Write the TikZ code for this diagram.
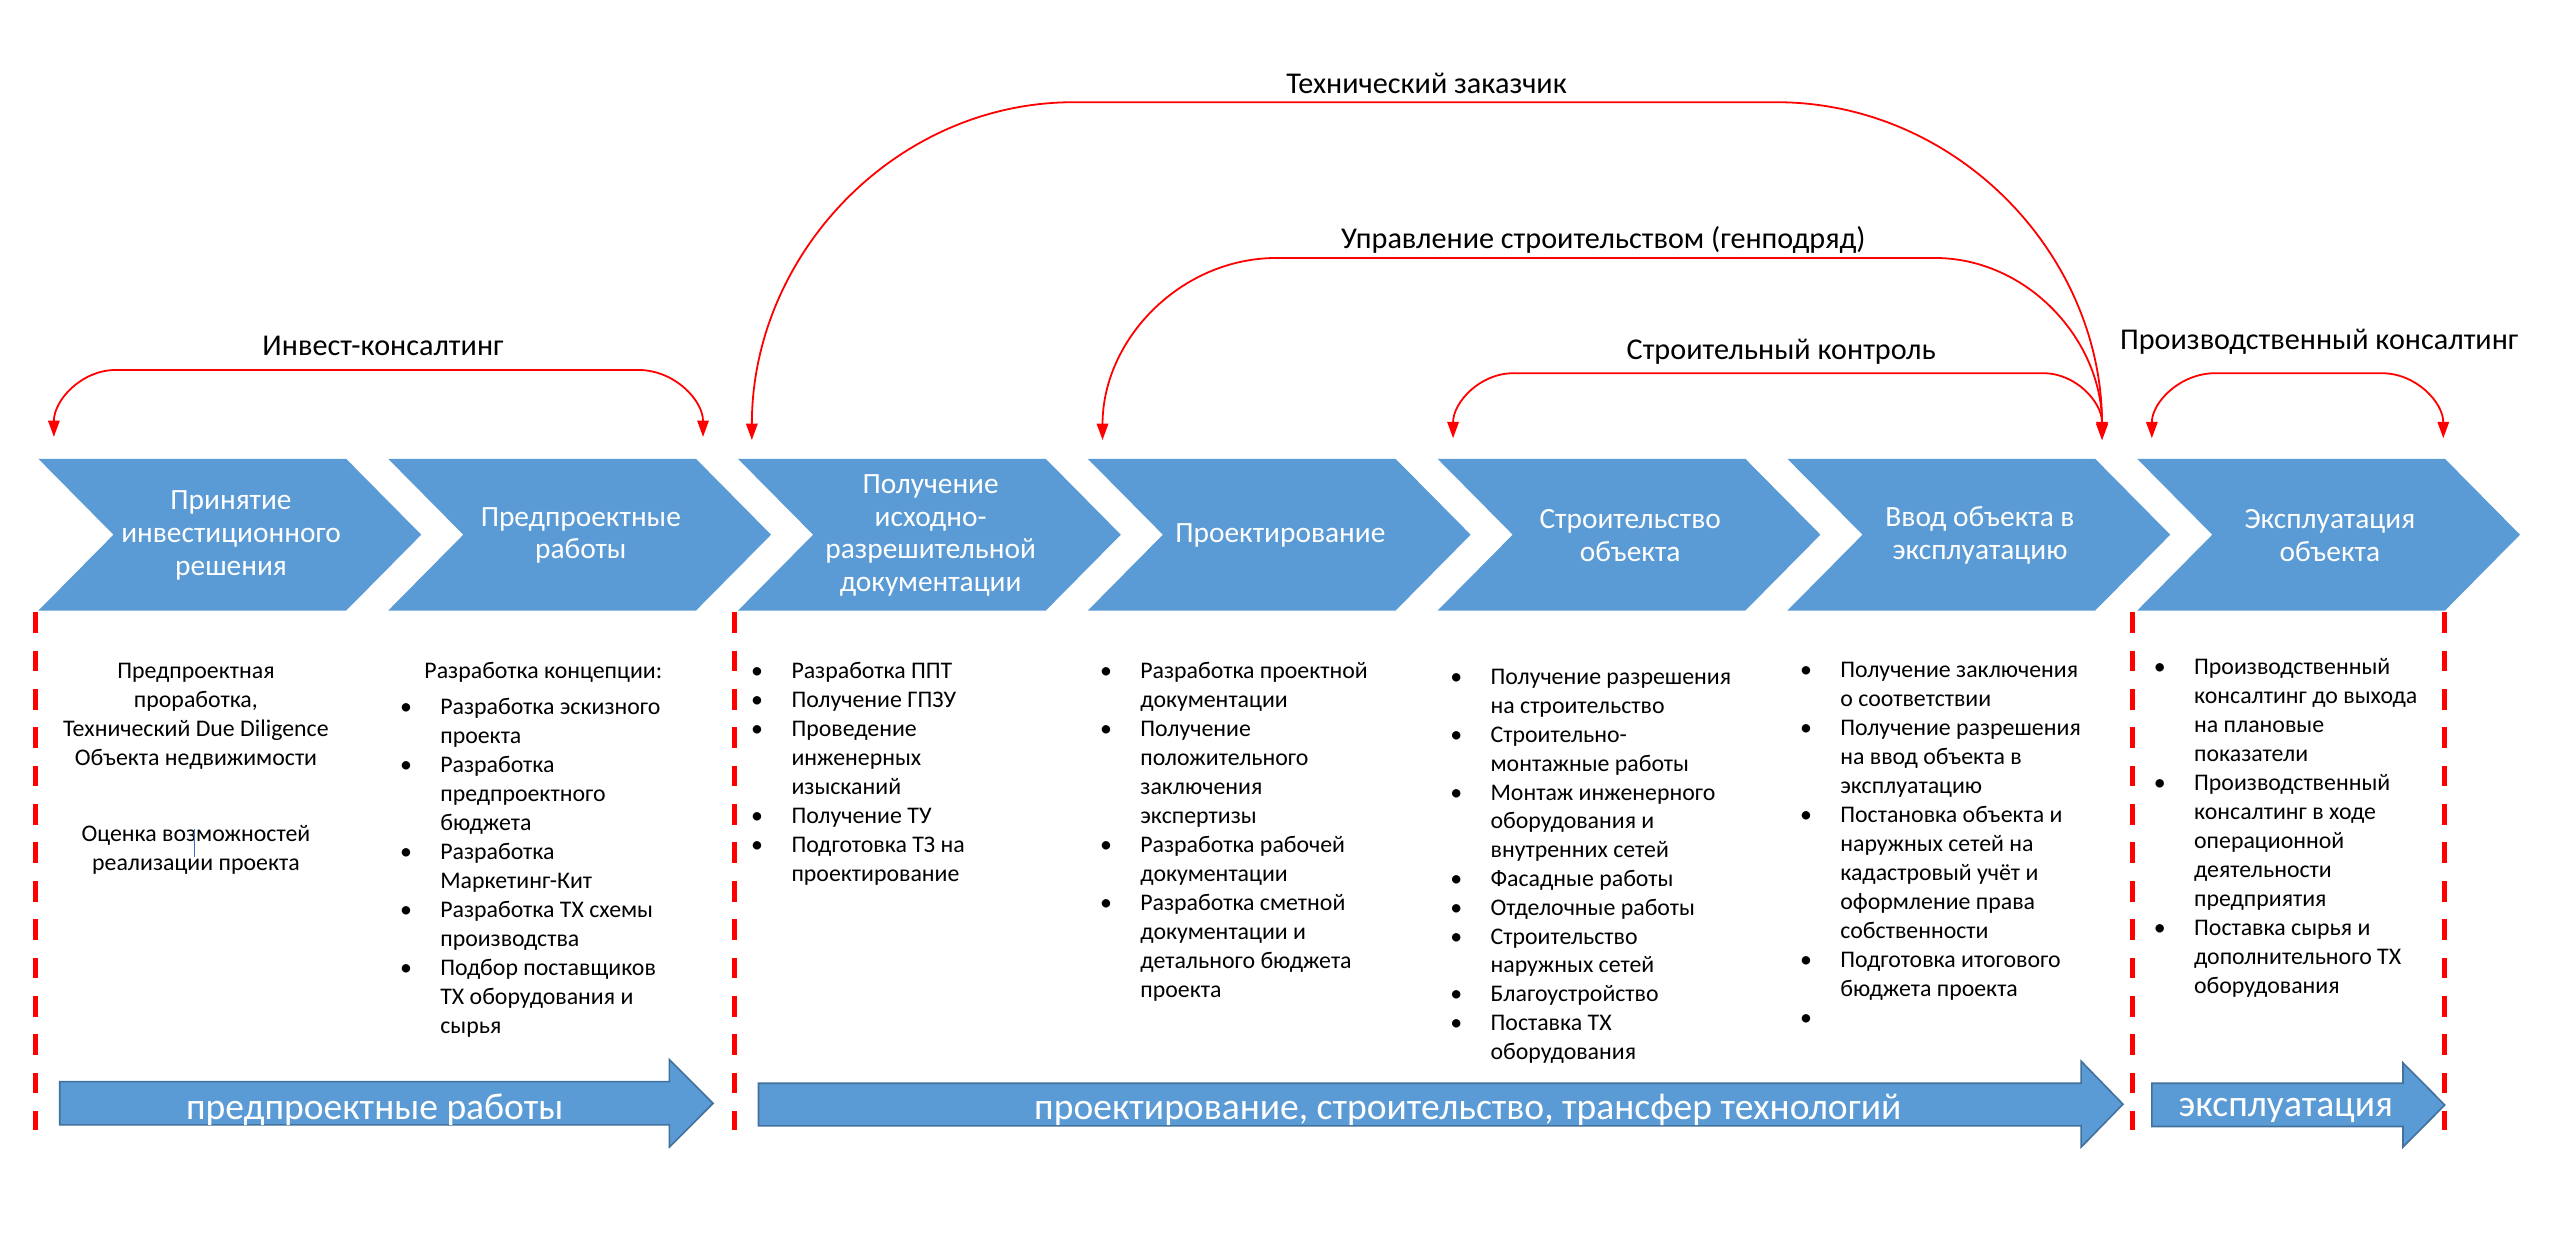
\documentclass[tikz,border=0pt]{standalone}
\usepackage{fontspec}
\setmainfont{Carlito}
\usetikzlibrary{arrows.meta,calc}
\definecolor{chevblue}{HTML}{5B9BD5}
\definecolor{chevedge}{HTML}{41719C}
\definecolor{arcred}{HTML}{FF0000}
\definecolor{cursorblue}{HTML}{2E75B6}
\newcommand{\bl}{\llap{•\hspace{17.4pt}}}
\newcommand{\chevshape}[1]{\fill[chev] (#1,281) -- ++(188.5,0) -- ++(46,46.5) -- ++(-46,46.5) -- ++(-188.5,0) -- ++(46,-46.5) -- cycle;}
\begin{document}
\begin{tikzpicture}[x=1pt,y=-1pt,
  chev/.style={fill=chevblue},
  chevtext/.style={text=white,font=\fontsize{18}{20}\selectfont,align=center,inner sep=0pt},
  flow/.style={fill=chevblue,draw=chevedge,line width=1pt,line join=miter},
  flowtext/.style={text=white,font=\fontsize{23}{27}\selectfont,inner sep=0pt},
  divider/.style={draw=arcred,line width=3pt,dash pattern=on 12.7pt off 10.8pt},
  arcline/.style={draw=arcred,line width=1.1pt,{Triangle[length=10pt,width=7pt]}-{Triangle[length=10pt,width=7pt]}},
  arclabel/.style={font=\fontsize{18.5}{22}\selectfont,anchor=base,inner sep=0pt},
  body/.style={font=\fontsize{14.6}{17.76}\selectfont,align=left,anchor=base west,inner sep=0pt},
  bodyc/.style={font=\fontsize{14.6}{17.76}\selectfont,align=center,anchor=base,inner sep=0pt},
]
\useasboundingbox (0,0) rectangle (1568,758);

% chevrons
\chevshape{23.5}
\chevshape{237.75}
\chevshape{452}
\chevshape{666.25}
\chevshape{880.5}
\chevshape{1094.75}
\chevshape{1309}
\node[chevtext] (c1) at (141.5,328) {Принятие\\инвестиционного\\решения};
\node[chevtext] (c2) at (355.75,328) {Предпроектные\\работы};
\node[chevtext] (c3) at (570,328) {Получение\\исходно-\\разрешительной\\документации};
\node[chevtext] (c4) at (784.25,328) {Проектирование};
\node[chevtext] (c5) at (998.5,328) {Строительство\\объекта};
\node[chevtext] (c6) at (1212.75,328) {Ввод объекта в\\эксплуатацию};
\node[chevtext] (c7) at (1427,328) {Эксплуатация\\объекта};

% dividers
\draw[divider] (21.9,375) -- (21.9,692);
\draw[divider] (450,375) -- (450,692);
\draw[divider] (1306,375) -- (1306,692);
\draw[divider] (1497,375) -- (1497,692);

% arc labels
\node[arclabel] (l1) at (234.6,218) {Инвест-консалтинг};
\node[arclabel] (l2) at (873.7,57) {Технический заказчик};
\node[arclabel] (l3) at (982,152) {Управление строительством (генподряд)};
\node[arclabel] (l4) at (1091,220) {Строительный контроль};
\node[arclabel] (l5) at (1420.5,214) {Производственный консалтинг};

% arc coordinates
\coordinate (a1L) at (33,267.6);   \coordinate (a1hL) at (71,226.6);
\coordinate (a1hR) at (391,226.6); \coordinate (a1R) at (430.6,267.6);
\coordinate (a2L) at (460.5,269.5); \coordinate (a2hL) at (657.6,62.6);
\coordinate (a2hR) at (1088,62.6);  \coordinate (a2R) at (1287.5,269.5);
\coordinate (a3L) at (675.3,269.5); \coordinate (a3hL) at (782,158);
\coordinate (a3hR) at (1185,158);   \coordinate (a3R) at (1287.5,269.5);
\coordinate (a4L) at (890,268.4);   \coordinate (a4hL) at (926.8,228.6);
\coordinate (a4hR) at (1251.7,228.6); \coordinate (a4R) at (1287.5,268.4);
\coordinate (a5L) at (1318,268.4);  \coordinate (a5hL) at (1356.7,228.6);
\coordinate (a5hR) at (1459,228.6); \coordinate (a5R) at (1496.5,268.4);

\draw[arcline] (a1L) .. controls ($(a1L)+(0,-22.6)$) and ($(a1hL)+(-21,0)$) .. (a1hL) -- (a1hR)
  .. controls ($(a1hR)+(21.9,0)$) and ($(a1R)+(0,-22.6)$) .. (a1R);
\draw[arcline] (a2L) .. controls ($(a2L)+(0,-114)$) and ($(a2hL)+(-108.8,0)$) .. (a2hL) -- (a2hR)
  .. controls ($(a2hR)+(110.2,0)$) and ($(a2R)+(0,-114)$) .. (a2R);
\draw[arcline] (a3L) .. controls ($(a3L)+(0,-61.6)$) and ($(a3hL)+(-58.9,0)$) .. (a3hL) -- (a3hR)
  .. controls ($(a3hR)+(56.6,0)$) and ($(a3R)+(0,-61.6)$) .. (a3R);
\draw[arcline] (a4L) .. controls ($(a4L)+(0,-22)$) and ($(a4hL)+(-20.3,0)$) .. (a4hL) -- (a4hR)
  .. controls ($(a4hR)+(19.8,0)$) and ($(a4R)+(0,-22)$) .. (a4R);
\draw[arcline] (a5L) .. controls ($(a5L)+(0,-22)$) and ($(a5hL)+(-21.4,0)$) .. (a5hL) -- (a5hR)
  .. controls ($(a5hR)+(20.7,0)$) and ($(a5R)+(0,-22)$) .. (a5R);

% body texts (anchor = baseline of the LAST line)
\node[bodyc] (d1a) at (120,468.7) {Предпроектная\\проработка,\\Технический Due Diligence\\Объекта недвижимости};
\node[bodyc] (d1b) at (120,533.2) {Оценка возможностей\\реализации проекта};
\draw[cursorblue,line width=0.5pt] (118.8,508) -- (118.8,524.7);
\node[body] (d2h) at (259.8,415.4) {Разработка концепции:};
\node[body] (d2) at (269.5,633.2) {\bl Разработка эскизного\\проекта\\\bl Разработка\\предпроектного\\бюджета\\\bl Разработка\\Маркетинг-Кит\\\bl Разработка ТХ схемы\\производства\\\bl Подбор поставщиков\\ТХ оборудования и\\сырья};
\node[body] (d3) at (484.6,539.7) {\bl Разработка ППТ\\\bl Получение ГПЗУ\\\bl Проведение\\инженерных\\изысканий\\\bl Получение ТУ\\\bl Подготовка ТЗ на\\проектирование};
\node[body] (d4) at (698.3,610.8) {\bl Разработка проектной\\документации\\\bl Получение\\положительного\\заключения\\экспертизы\\\bl Разработка рабочей\\документации\\\bl Разработка сметной\\документации и\\детального бюджета\\проекта};
\node[body,font=\fontsize{14.6}{17.64}\selectfont] (d5) at (912.8,648.8) {\bl Получение разрешения\\на строительство\\\bl Строительно-\\монтажные работы\\\bl Монтаж инженерного\\оборудования и\\внутренних сетей\\\bl Фасадные работы\\\bl Отделочные работы\\\bl Строительство\\наружных сетей\\\bl Благоустройство\\\bl Поставка ТХ\\оборудования};
\node[body] (d6) at (1127,627.9) {\bl Получение заключения\\о соответствии\\\bl Получение разрешения\\на ввод объекта в\\эксплуатацию\\\bl Постановка объекта и\\наружных сетей на\\кадастровый учёт и\\оформление права\\собственности\\\bl Подготовка итогового\\бюджета проекта\\\bl\mbox{}};
\node[body] (d7) at (1343.7,608.4) {\bl Производственный\\консалтинг до выхода\\на плановые\\показатели\\\bl Производственный\\консалтинг в ходе\\операционной\\деятельности\\предприятия\\\bl Поставка сырья и\\дополнительного ТХ\\оборудования};

% bottom flow arrows
\draw[flow] (36.6,662.5) -- (410,662.5) -- (410,649) -- (436.7,675.8) -- (410,702.6) -- (410,689) -- (36.6,689) -- cycle;
\draw[flow] (464.6,663.5) -- (1274.7,663.5) -- (1274.7,650) -- (1300.3,676.3) -- (1274.7,702.6) -- (1274.7,689.6) -- (464.6,689.6) -- cycle;
\draw[flow] (1318,663.5) -- (1471.8,663.5) -- (1471.8,651) -- (1497.4,676.8) -- (1471.8,702.6) -- (1471.8,690) -- (1318,690) -- cycle;
\node[flowtext] (f1) at (229.5,680) {предпроектные работы};
\node[flowtext] (f2) at (899,680) {проектирование, строительство, трансфер технологий};
\node[flowtext] (f3) at (1400,680) {эксплуатация};
\end{tikzpicture}
\end{document}
